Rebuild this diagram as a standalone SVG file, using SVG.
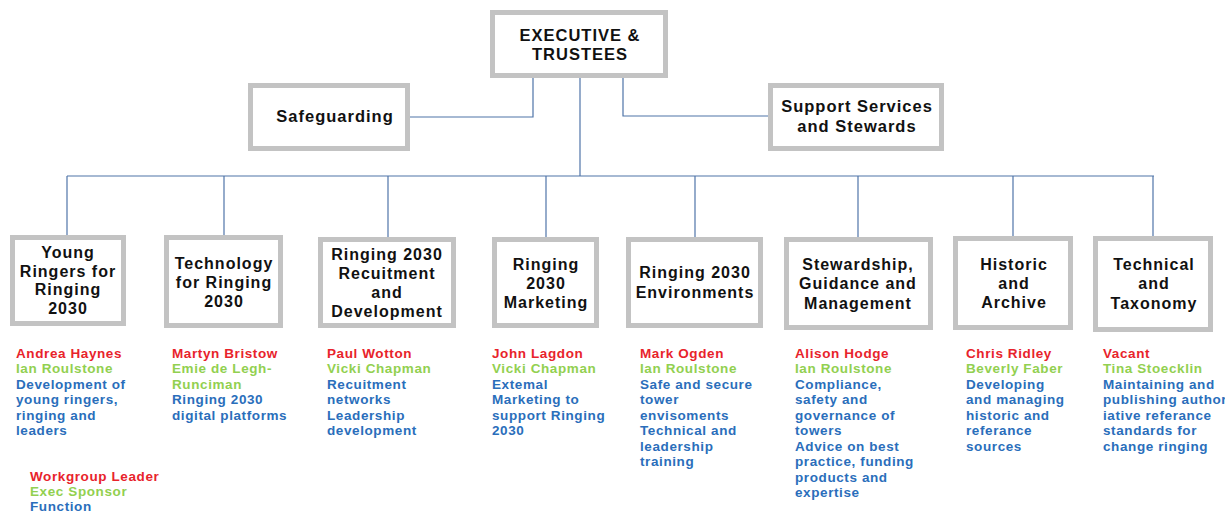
<svg xmlns="http://www.w3.org/2000/svg" width="1225" height="512" viewBox="0 0 1225 512">
<style>
.box{fill:#fff;stroke:#c3c3c3;stroke-width:5}
.t{font-family:"Liberation Sans",Arial,sans-serif;font-weight:bold;font-size:16px;letter-spacing:1px;fill:#111;text-anchor:middle}
.h{font-size:16.5px}
.s{font-family:"Liberation Sans",Arial,sans-serif;font-weight:bold;font-size:13.5px;letter-spacing:0.6px}
.r{fill:#e8232b}.g{fill:#92d050}.b{fill:#2a6ebb}
.c{fill:none;stroke:#4f74a8;stroke-width:1.2}
</style>
<rect width="1225" height="512" fill="#fff"/>
<g id="connectors">
<polyline class="c" points="410,117 533,117 533,78"/>
<polyline class="c" points="768,116 623,116 623,78"/>
<line class="c" x1="580" y1="78" x2="580" y2="176"/>
<line class="c" x1="67" y1="176" x2="1154" y2="176"/>
<line class="c" x1="67" y1="176" x2="67" y2="235"/>
<line class="c" x1="224" y1="176" x2="224" y2="235"/>
<line class="c" x1="388" y1="176" x2="388" y2="237"/>
<line class="c" x1="546" y1="176" x2="546" y2="237"/>
<line class="c" x1="695" y1="176" x2="695" y2="237"/>
<line class="c" x1="858" y1="176" x2="858" y2="237"/>
<line class="c" x1="1013" y1="176" x2="1013" y2="236"/>
<line class="c" x1="1153" y1="176" x2="1153" y2="236"/>
</g>
<g id="exec">
<rect class="box" x="492.5" y="12.5" width="173" height="63"/>
<text class="t h" x="580" y="41">EXECUTIVE &amp;</text>
<text class="t h" x="580" y="60">TRUSTEES</text>
</g>
<g id="safeguarding">
<rect class="box" x="250.5" y="85.5" width="157" height="63"/>
<text class="t h" x="335" y="122">Safeguarding</text>
</g>
<g id="support">
<rect class="box" x="770.5" y="85.5" width="171" height="63"/>
<text class="t h" x="857" y="112">Support Services</text>
<text class="t h" x="857" y="132">and Stewards</text>
</g>
<g id="young">
<rect class="box" x="12.5" y="237.5" width="111" height="86"/>
<text class="t" x="68" y="258">Young</text>
<text class="t" x="68" y="277">Ringers for</text>
<text class="t" x="68" y="295">Ringing</text>
<text class="t" x="68" y="314">2030</text>
</g>
<g id="technology">
<rect class="box" x="166.5" y="237.5" width="114" height="88"/>
<text class="t" x="224" y="269">Technology</text>
<text class="t" x="224" y="288">for Ringing</text>
<text class="t" x="224" y="307">2030</text>
</g>
<g id="recruitment">
<rect class="box" x="320.5" y="239.5" width="133" height="86"/>
<text class="t" x="387" y="260">Ringing 2030</text>
<text class="t" x="387" y="279">Recuitment</text>
<text class="t" x="387" y="298">and</text>
<text class="t" x="387" y="317">Development</text>
</g>
<g id="marketing">
<rect class="box" x="494.5" y="239.5" width="102" height="86"/>
<text class="t" x="546" y="270">Ringing</text>
<text class="t" x="546" y="289">2030</text>
<text class="t" x="546" y="308">Marketing</text>
</g>
<g id="environments">
<rect class="box" x="628.5" y="239.5" width="132" height="86"/>
<text class="t" x="695" y="278">Ringing 2030</text>
<text class="t" x="695" y="298">Environments</text>
</g>
<g id="stewardship">
<rect class="box" x="786.5" y="239.5" width="144" height="88"/>
<text class="t" x="858" y="270">Stewardship,</text>
<text class="t" x="858" y="289">Guidance and</text>
<text class="t" x="858" y="309">Management</text>
</g>
<g id="historic">
<rect class="box" x="955.5" y="238.5" width="115" height="89"/>
<text class="t" x="1014" y="270">Historic</text>
<text class="t" x="1014" y="289">and</text>
<text class="t" x="1014" y="308">Archive</text>
</g>
<g id="technical">
<rect class="box" x="1095.5" y="238.5" width="115" height="91"/>
<text class="t" x="1154" y="270">Technical</text>
<text class="t" x="1154" y="289">and</text>
<text class="t" x="1154" y="309">Taxonomy</text>
</g>
<g id="details" class="s">
<text x="16" y="357.5"><tspan class="r">Andrea Haynes</tspan><tspan class="g" x="16" dy="15.5">Ian Roulstone</tspan><tspan class="b" x="16" dy="15.5">Development of</tspan><tspan class="b" x="16" dy="15.5">young ringers,</tspan><tspan class="b" x="16" dy="15.5">ringing and</tspan><tspan class="b" x="16" dy="15.5">leaders</tspan></text>
<text x="172" y="357.5"><tspan class="r">Martyn Bristow</tspan><tspan class="g" x="172" dy="15.5">Emie de Legh-</tspan><tspan class="g" x="172" dy="15.5">Runciman</tspan><tspan class="b" x="172" dy="15.5">Ringing 2030</tspan><tspan class="b" x="172" dy="15.5">digital platforms</tspan></text>
<text x="327" y="357.5"><tspan class="r">Paul Wotton</tspan><tspan class="g" x="327" dy="15.5">Vicki Chapman</tspan><tspan class="b" x="327" dy="15.5">Recuitment</tspan><tspan class="b" x="327" dy="15.5">networks</tspan><tspan class="b" x="327" dy="15.5">Leadership</tspan><tspan class="b" x="327" dy="15.5">development</tspan></text>
<text x="492" y="357.5"><tspan class="r">John Lagdon</tspan><tspan class="g" x="492" dy="15.5">Vicki Chapman</tspan><tspan class="b" x="492" dy="15.5">Extemal</tspan><tspan class="b" x="492" dy="15.5">Marketing to</tspan><tspan class="b" x="492" dy="15.5">support Ringing</tspan><tspan class="b" x="492" dy="15.5">2030</tspan></text>
<text x="640" y="357.5"><tspan class="r">Mark Ogden</tspan><tspan class="g" x="640" dy="15.5">Ian Roulstone</tspan><tspan class="b" x="640" dy="15.5">Safe and secure</tspan><tspan class="b" x="640" dy="15.5">tower</tspan><tspan class="b" x="640" dy="15.5">envisoments</tspan><tspan class="b" x="640" dy="15.5">Technical and</tspan><tspan class="b" x="640" dy="15.5">leadership</tspan><tspan class="b" x="640" dy="15.5">training</tspan></text>
<text x="795" y="357.5"><tspan class="r">Alison Hodge</tspan><tspan class="g" x="795" dy="15.5">Ian Roulstone</tspan><tspan class="b" x="795" dy="15.5">Compliance,</tspan><tspan class="b" x="795" dy="15.5">safety and</tspan><tspan class="b" x="795" dy="15.5">governance of</tspan><tspan class="b" x="795" dy="15.5">towers</tspan><tspan class="b" x="795" dy="15.5">Advice on best</tspan><tspan class="b" x="795" dy="15.5">practice, funding</tspan><tspan class="b" x="795" dy="15.5">products and</tspan><tspan class="b" x="795" dy="15.5">expertise</tspan></text>
<text x="966" y="357.5"><tspan class="r">Chris Ridley</tspan><tspan class="g" x="966" dy="15.5">Beverly Faber</tspan><tspan class="b" x="966" dy="15.5">Developing</tspan><tspan class="b" x="966" dy="15.5">and managing</tspan><tspan class="b" x="966" dy="15.5">historic and</tspan><tspan class="b" x="966" dy="15.5">referance</tspan><tspan class="b" x="966" dy="15.5">sources</tspan></text>
<text x="1103" y="357.5"><tspan class="r">Vacant</tspan><tspan class="g" x="1103" dy="15.5">Tina Stoecklin</tspan><tspan class="b" x="1103" dy="15.5">Maintaining and</tspan><tspan class="b" x="1103" dy="15.5">publishing  author</tspan><tspan class="b" x="1103" dy="15.5">iative referance</tspan><tspan class="b" x="1103" dy="15.5">standards for</tspan><tspan class="b" x="1103" dy="15.5">change ringing</tspan></text>
</g>
<g id="legend" class="s">
<text x="30" y="480.5"><tspan class="r">Workgroup Leader</tspan><tspan class="g" x="30" dy="15">Exec Sponsor</tspan><tspan class="b" x="30" dy="15">Function</tspan></text>
</g>
</svg>
